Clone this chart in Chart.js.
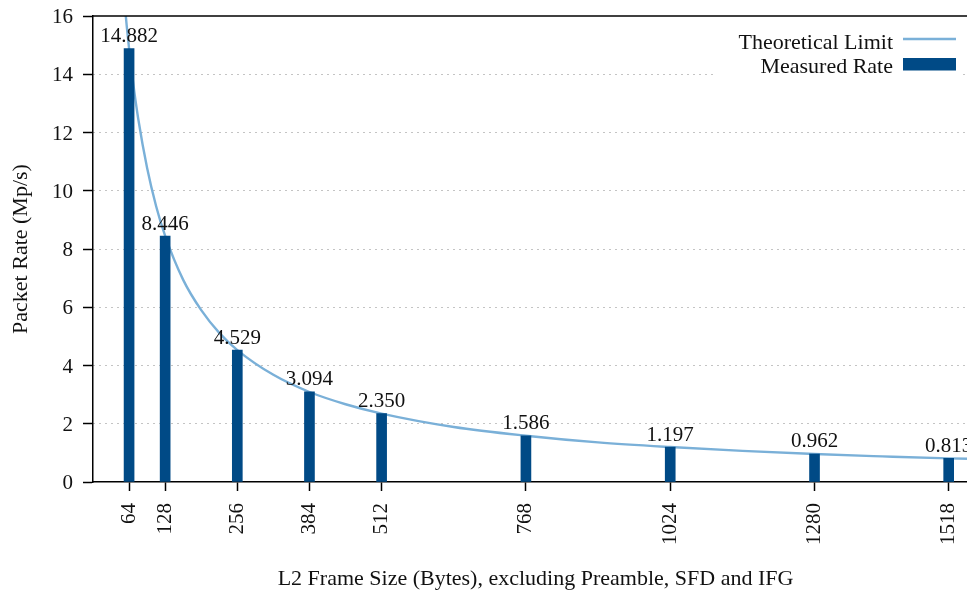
<!DOCTYPE html>
<html>
<head>
<meta charset="utf-8">
<script src="https://cdn.jsdelivr.net/npm/chart.js@4"></script>
<style>
  html, body { margin: 0; padding: 0; background: #fff; overflow: hidden; }
  #wrap { width: 1000px; height: 596px; }
</style>
</head>
<body>
<div id="wrap"><canvas id="c" width="1000" height="596"></canvas></div>
<script>
// Measured packet rate per L2 frame size (10 GbE)
const frameSizes = [64, 128, 256, 384, 512, 768, 1024, 1280, 1518];
const measuredRate = [14.882, 8.446, 4.529, 3.094, 2.350, 1.586, 1.197, 0.962, 0.813];

// Theoretical line-rate limit, sampled along the curve
const limitSizes = [56, 60, 64, 72, 80, 96, 112, 128, 160, 192, 224, 256, 320, 384, 448, 512, 640, 768, 896, 1024, 1152, 1280, 1400, 1518, 1570];
const limitRate  = [16.45, 15.63, 14.88, 13.59, 12.50, 10.78, 9.47, 8.45, 6.94, 5.90, 5.12, 4.53, 3.68, 3.09, 2.67, 2.35, 1.89, 1.59, 1.36, 1.20, 1.07, 0.96, 0.88, 0.81, 0.79];

// Axis ticks
const xTicks = frameSizes;
const yTicks = [0, 2, 4, 6, 8, 10, 12, 14, 16];

const FONT = '"Liberation Serif", "DejaVu Serif", serif';
const NUM_SIZE = 21;   // tick and value labels
const TEXT_SIZE = 22;  // axis titles and key
const BAR_COLOR = '#004a86';
const LINE_COLOR = '#7ab0d8';

// Top frame line
const frameTop = {
  id: 'frameTop',
  afterDraw(chart) {
    const { ctx, chartArea } = chart;
    ctx.save();
    ctx.strokeStyle = '#000';
    ctx.lineWidth = 1.5;
    ctx.beginPath();
    ctx.moveTo(chartArea.left - 0.75, chartArea.top);
    ctx.lineTo(chart.width, chartArea.top);
    ctx.stroke();
    ctx.restore();
  }
};

// Value labels above the bars
const barLabels = {
  id: 'barLabels',
  afterDatasetsDraw(chart) {
    const { ctx } = chart;
    const idx = chart.data.datasets.findIndex(d => d.type === 'bar');
    const meta = chart.getDatasetMeta(idx);
    ctx.save();
    ctx.font = NUM_SIZE + 'px ' + FONT;
    ctx.fillStyle = '#111';
    ctx.textAlign = 'center';
    ctx.textBaseline = 'alphabetic';
    meta.data.forEach((bar, i) => {
      ctx.fillText(measuredRate[i].toFixed(3), bar.x, bar.y - 6.5);
    });
    ctx.restore();
  }
};

// Key in the top-right corner: text on the left, sample on the right
const keyBox = {
  id: 'keyBox',
  afterDatasetsDraw(chart) {
    const { ctx, chartArea } = chart;
    const sampleRight = chartArea.right - 22;
    const sampleLeft = sampleRight - 53;
    const textRight = sampleLeft - 10;
    ctx.save();
    ctx.fillStyle = '#fff';
    ctx.fillRect(715, chartArea.top + 1, sampleRight + 7 - 715, 64);
    ctx.font = TEXT_SIZE + 'px ' + FONT;
    ctx.fillStyle = '#111';
    ctx.textAlign = 'right';
    ctx.textBaseline = 'middle';
    chart.data.datasets.forEach((ds, i) => {
      const cy = chartArea.top + 27 + i * 24;
      ctx.fillText(ds.label, textRight, cy);
      if (ds.type === 'line') {
        ctx.strokeStyle = ds.borderColor;
        ctx.lineWidth = ds.borderWidth;
        ctx.beginPath();
        ctx.moveTo(sampleLeft, cy - 4);
        ctx.lineTo(sampleRight, cy - 4);
        ctx.stroke();
      } else {
        ctx.fillStyle = ds.backgroundColor;
        ctx.fillRect(sampleLeft, cy - 9, sampleRight - sampleLeft, 12.5);
        ctx.fillStyle = '#111';
      }
    });
    ctx.restore();
  }
};

new Chart(document.getElementById('c'), {
  type: 'bar',
  data: {
    datasets: [
      {
        type: 'line',
        label: 'Theoretical Limit',
        data: limitSizes.map((x, i) => ({ x, y: limitRate[i] })),
        borderColor: LINE_COLOR,
        borderWidth: 2.4,
        pointRadius: 0,
        fill: false,
        cubicInterpolationMode: 'monotone',
        order: 2
      },
      {
        type: 'bar',
        label: 'Measured Rate',
        data: frameSizes.map((x, i) => ({ x, y: measuredRate[i] })),
        backgroundColor: BAR_COLOR,
        barThickness: 10,
        order: 1
      }
    ]
  },
  options: {
    responsive: false,
    animation: false,
    devicePixelRatio: 1,
    layout: { padding: { top: 16, right: 22, left: 0, bottom: 0 } },
    plugins: {
      legend: { display: false },
      tooltip: { enabled: false }
    },
    scales: {
      x: {
        type: 'linear',
        min: 0,
        max: 1570,
        offset: false,
        afterFit(scale) {
          scale.height = 114;
          scale.paddingLeft = 0;
          scale.paddingRight = 0;
        },
        afterBuildTicks(scale) { scale.ticks = xTicks.map(v => ({ value: v })); },
        ticks: {
          autoSkip: false,
          maxRotation: 90,
          minRotation: 90,
          padding: 12,
          color: '#111',
          font: { family: FONT, size: NUM_SIZE },
          callback: v => String(v)
        },
        grid: {
          offset: false,
          drawOnChartArea: false,
          drawTicks: true,
          tickLength: 9,
          tickColor: '#000',
          tickWidth: 1.5
        },
        border: { display: true, color: '#000', width: 1.5 },
        title: {
          display: true,
          text: 'L2 Frame Size (Bytes), excluding Preamble, SFD and IFG',
          color: '#111',
          font: { family: FONT, size: TEXT_SIZE },
          padding: { top: 0, bottom: 4 }
        }
      },
      y: {
        type: 'linear',
        min: 0,
        max: 16,
        afterFit(scale) {
          scale.width = 93;
          scale.paddingTop = 0;
          scale.paddingBottom = 0;
        },
        afterBuildTicks(scale) { scale.ticks = yTicks.map(v => ({ value: v })); },
        ticks: {
          padding: 10,
          labelOffset: 1.5,
          color: '#111',
          font: { family: FONT, size: NUM_SIZE },
          callback: v => String(v)
        },
        grid: {
          drawTicks: true,
          tickLength: 10,
          tickColor: '#000',
          tickWidth: 1.5,
          lineWidth: 1,
          color: ctx => (ctx.tick && (ctx.tick.value === 0 || ctx.tick.value === 16)) ? 'rgba(0,0,0,0)' : '#888'
        },
        border: { display: true, color: '#000', width: 1.5, dash: [1, 5] },
        title: {
          display: true,
          text: 'Packet Rate (Mp/s)',
          color: '#111',
          font: { family: FONT, size: TEXT_SIZE },
          padding: { top: 8, bottom: 0 }
        }
      }
    }
  },
  plugins: [frameTop, barLabels, keyBox]
});
</script>
</body>
</html>
